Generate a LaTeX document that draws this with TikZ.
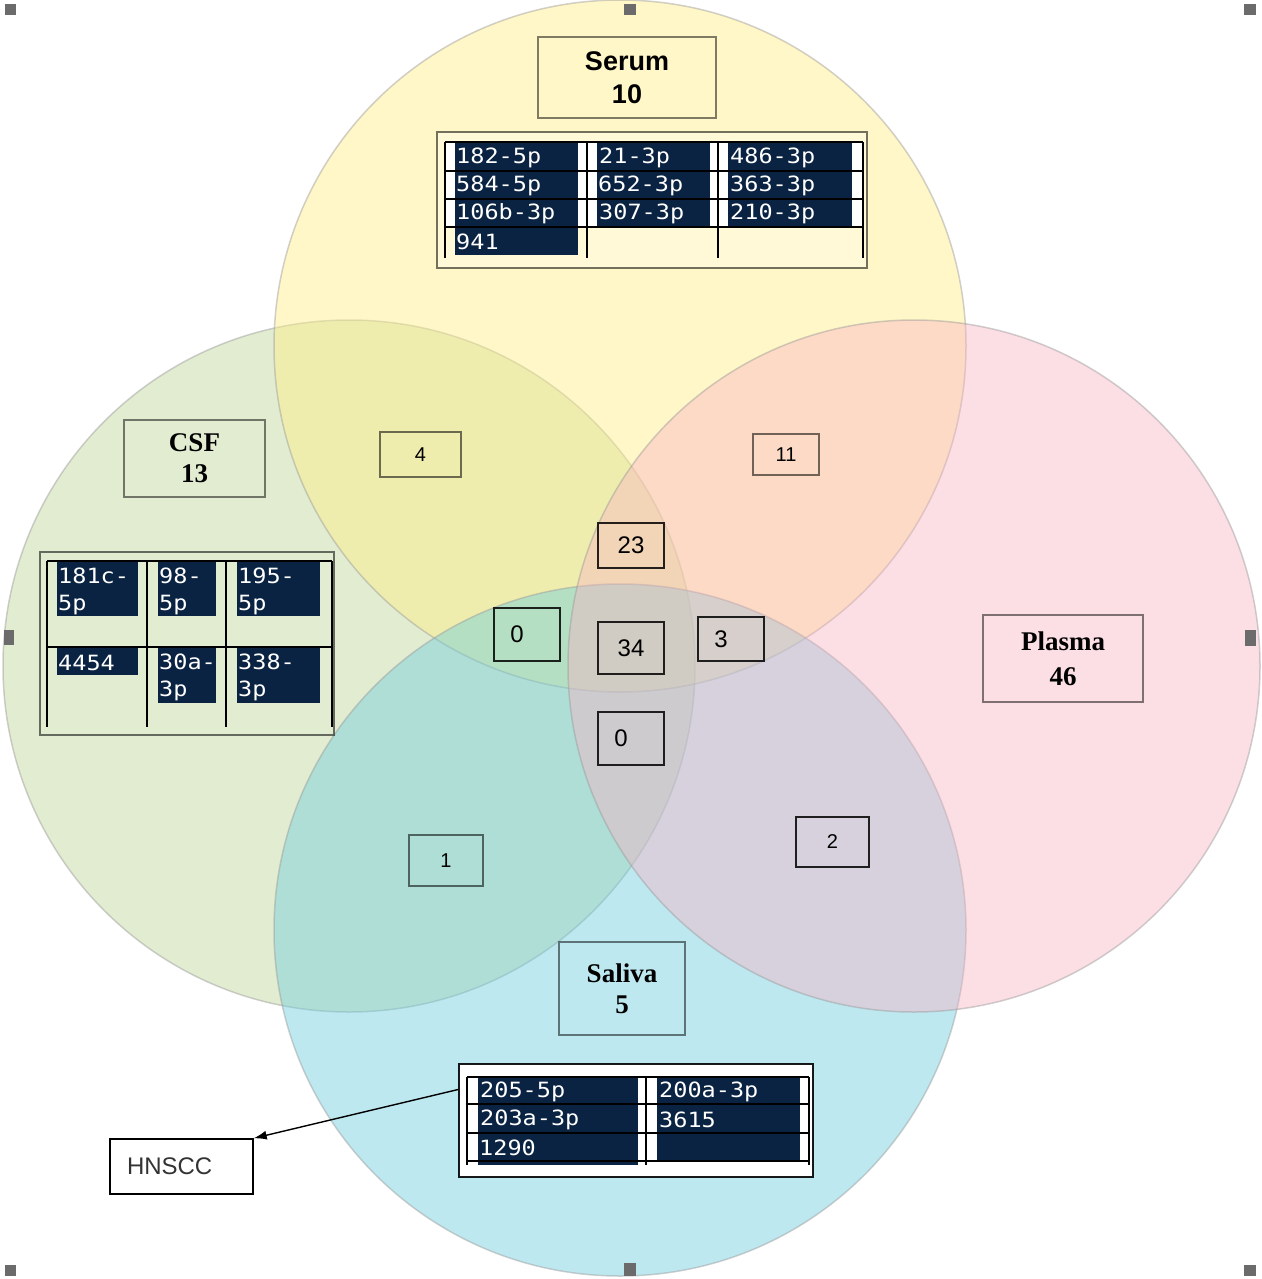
\documentclass[tikz,border=0pt]{standalone}
\usepackage{fontspec}
\setmainfont{Liberation Serif}
\setsansfont{Liberation Sans}
\newfontfamily\cellfont[FakeStretch=1.12]{DejaVu Sans Mono}
\usetikzlibrary{arrows.meta,calc}
\definecolor{serumC}{RGB}{255,239,133}
\definecolor{csfC}{RGB}{191,215,155}
\definecolor{plasmaC}{RGB}{248,179,195}
\definecolor{salivaC}{RGB}{111,206,222}
\definecolor{cellC}{RGB}{10,35,66}
\begin{document}
\begin{tikzpicture}[x=1pt,y=-1pt,
  venn/.style={fill opacity=0.45, draw=black!40, draw opacity=0.45, line width=1.5pt},
  lblbox/.style={draw=black, draw opacity=0.5, line width=1.3pt, inner sep=0pt, align=center,
     font=\bfseries\fontsize{27}{33}\selectfont},
  numbox/.style={draw=black, draw opacity=0.85, line width=1.5pt, inner sep=0pt,
     font=\sffamily\fontsize{24}{28}\selectfont},
  smallnum/.style={numbox, draw opacity=0.55, font=\sffamily\fontsize{20}{24}\selectfont},
  tabframe/.style={draw=black, draw opacity=0.55, line width=1.3pt, inner sep=0pt},
  celltext/.style={text=white, anchor=west, inner sep=0pt, align=left,
     font=\cellfont\fontsize{21}{27}\selectfont},
  gridline/.style={black, line width=1.6pt},
  handle/.style={fill=black!58}]
\useasboundingbox (0,0) rectangle (1261,1279);
\fill[white] (0,0) rectangle (1261,1279);
% circles
\path[venn, fill=csfC] (349,666) circle[radius=346pt];
\path[venn, fill=serumC] (620,346) circle[radius=346pt];
\path[venn, fill=salivaC] (620,930) circle[radius=346pt];
\path[venn, fill=plasmaC, fill opacity=0.42] (914,666) circle[radius=346pt];
% set labels
\node[lblbox, font=\sffamily\bfseries\fontsize{27}{33}\selectfont,
  minimum width=178pt, minimum height=81pt] (serumlbl) at (627,77.5) {Serum\\10};
\node[lblbox, font=\bfseries\fontsize{27}{31}\selectfont,
  minimum width=141pt, minimum height=77pt] (csflbl) at (194.5,458.5) {CSF\\13};
\node[lblbox, font=\bfseries\fontsize{27}{35}\selectfont,
  minimum width=160pt, minimum height=87pt] (plasmalbl) at (1063,658.5) {Plasma\\46};
\node[lblbox, font=\bfseries\fontsize{27}{31}\selectfont,
  minimum width=126pt, minimum height=93pt] (salivalbl) at (622,988.5) {Saliva\\5};
% region counts
\node[smallnum, minimum width=81pt, minimum height=45pt] (n4) at (420.5,454.5) {4};
\node[smallnum, minimum width=66pt, minimum height=41pt] (n11) at (786,454.5) {11};
\node[numbox, minimum width=66pt, minimum height=45pt] (n23) at (631,545.5) {23};
\node[numbox, minimum width=66pt, minimum height=53pt] (n0l) at (527,634.5) {\makebox[0pt]{\hspace*{-20pt}0}};
\node[numbox, minimum width=66pt, minimum height=52pt] (n34) at (631,648) {34};
\node[numbox, minimum width=66pt, minimum height=44pt] (n3) at (731,639) {\makebox[0pt]{\hspace*{-20pt}3}};
\node[numbox, minimum width=66pt, minimum height=53pt] (n0b) at (631,738.5) {\makebox[0pt]{\hspace*{-20pt}0}};
\node[smallnum, minimum width=74pt, minimum height=51pt] (n1) at (446,860.5) {1};
\node[smallnum, draw opacity=0.85, minimum width=73pt, minimum height=50pt] (n2) at (832.5,842) {2};
% serum table
\node[tabframe, fill=white, fill opacity=0.3, minimum width=430pt, minimum height=136pt] (serumtab) at (652,200) {};
\fill[white] (445,142) rectangle (863,227);
\foreach \xa/\xb in {455/578,597/710,728/852}
  \foreach \ya/\yb in {142/171,171/199,199/227}
    \fill[cellC] (\xa,\ya) rectangle (\xb,\yb);
\fill[cellC] (455,227) rectangle (578,255);
\foreach \x in {445,587,718,863} \draw[gridline] (\x,142) -- (\x,258);
\foreach \y in {142,171,199,227} \draw[gridline] (445,\y) -- (863,\y);
\node[celltext] (sa1) at (456,158) {182-5p};
\node[celltext] (sa2) at (456,186) {584-5p};
\node[celltext] (sa3) at (456,214) {106b-3p};
\node[celltext] (sa4) at (456,242) {941};
\node[celltext] (sb1) at (599,158) {21-3p};
\node[celltext] (sb2) at (598,186) {652-3p};
\node[celltext] (sb3) at (599,214) {307-3p};
\node[celltext] (sc1) at (730,158) {486-3p};
\node[celltext] (sc2) at (730,186) {363-3p};
\node[celltext] (sc3) at (730,214) {210-3p};
% CSF table
\node[tabframe, minimum width=294pt, minimum height=183pt] (csftab) at (187,643.5) {};
\fill[cellC] (57,561) rectangle (138,616);
\fill[cellC] (158,561) rectangle (216,616);
\fill[cellC] (237,561) rectangle (320,616);
\fill[cellC] (57,648) rectangle (138,675);
\fill[cellC] (158,648) rectangle (216,703);
\fill[cellC] (237,648) rectangle (320,703);
\foreach \x in {47,147,226,332} \draw[gridline] (\x,561) -- (\x,727);
\foreach \y in {561,647} \draw[gridline] (47,\y) -- (332,\y);
\node[celltext] (ca1) at (58,591) {181c-\\5p};
\node[celltext] (cb1) at (159,591) {98-\\5p};
\node[celltext] (cc1) at (238,591) {195-\\5p};
\node[celltext] (ca2) at (58,663) {4454};
\node[celltext] (cb2) at (159,677) {30a-\\3p};
\node[celltext] (cc2) at (238,677) {338-\\3p};
% saliva table
\node[tabframe, draw opacity=0.9, fill=white, line width=1.8pt, minimum width=354pt, minimum height=113pt] (saltab) at (636,1120.5) {};
\foreach \xa/\xb in {478/638,657/800}
  \foreach \ya/\yb in {1077/1104,1104/1133,1133/1161}
    \fill[cellC] (\xa,\ya) rectangle (\xb,\yb);
\fill[cellC] (478,1161) rectangle (638,1165);
\foreach \x in {467,646,809} \draw[gridline] (\x,1077) -- (\x,1165);
\foreach \y in {1077,1104,1133,1161} \draw[gridline] (467,\y) -- (809,\y);
\node[celltext] (la1) at (480,1092) {205-5p};
\node[celltext] (la2) at (480,1120) {203a-3p};
\node[celltext] (la3) at (479,1148) {1290};
\node[celltext] (lb1) at (659,1092) {200a-3p};
\node[celltext] (lb2) at (659,1120) {3615};
% HNSCC
\node[draw=black, line width=1.5pt, text=black!80, font=\sffamily\fontsize{24}{28}\selectfont,
  text width=109pt, inner xsep=17pt, inner ysep=0pt, minimum height=55pt, align=left] (hnscc) at (181.5,1166.5) {HNSCC};
\draw[-{Latex[length=13pt,width=9pt]}, line width=1.4pt]
  ($(saltab.north west)!0.23!(saltab.south west)$) -- (hnscc.north east);
% selection handles
\fill[handle] (5,4) rectangle (16,15);
\fill[handle] (624,4) rectangle (636,15);
\fill[handle] (1244,4) rectangle (1256,15);
\fill[handle] (4,630) rectangle (14,645);
\fill[handle] (1245,630) rectangle (1256,646);
\fill[handle] (5,1265) rectangle (16,1276);
\fill[handle] (624,1263) rectangle (636,1276);
\fill[handle] (1244,1265) rectangle (1256,1276);
\end{tikzpicture}
\end{document}
